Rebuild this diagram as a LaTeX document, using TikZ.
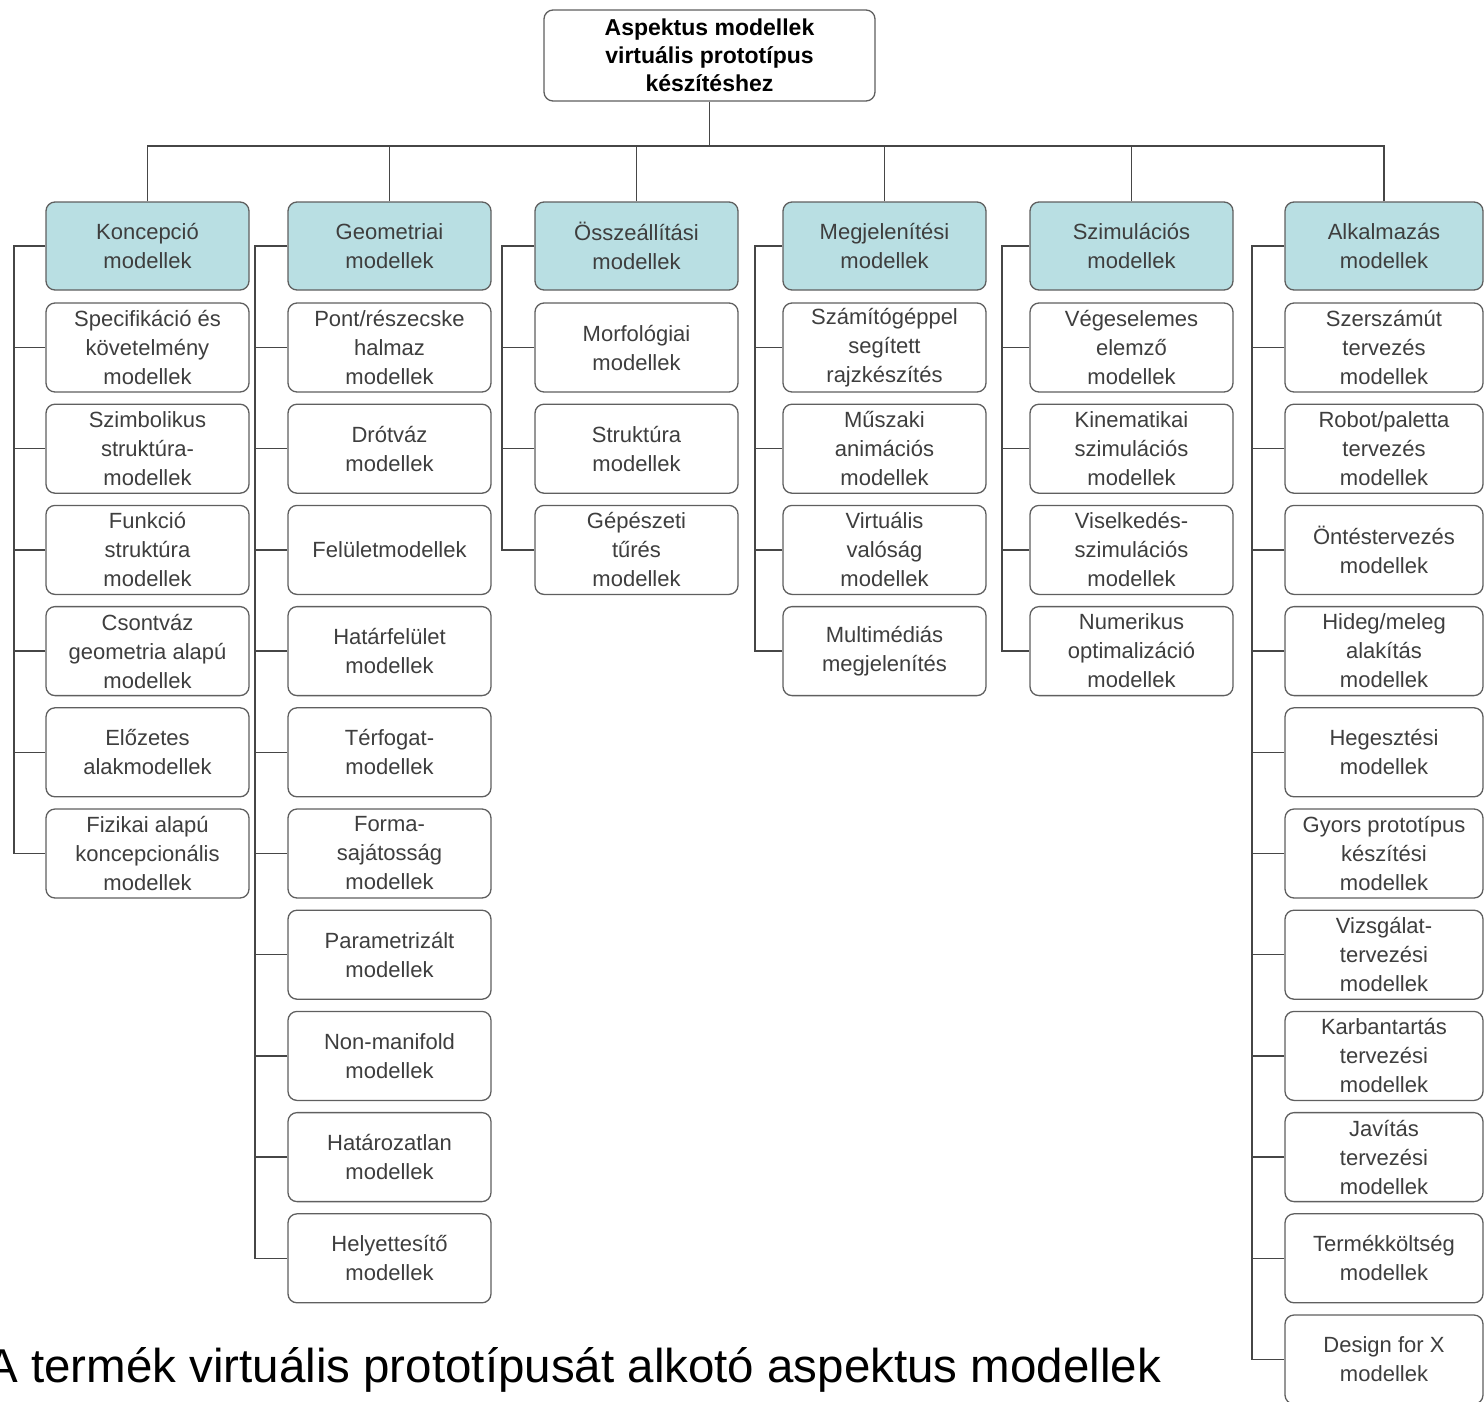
\documentclass[tikz,border=0pt]{standalone}
\usepackage{fontspec}
\setmainfont{Liberation Sans}
\definecolor{hdr}{RGB}{185,223,227}
\definecolor{edgec}{RGB}{95,95,95}
\definecolor{txt}{RGB}{62,62,62}
\definecolor{linkc}{RGB}{70,70,70}
\begin{document}
\begin{tikzpicture}[x=1pt,y=-1pt,
 box/.style={draw=edgec, line width=1.3pt, rounded corners=9pt, fill=white, text=txt, align=center,
   font=\fontsize{22}{29}\selectfont, inner sep=0pt, minimum height=89pt, minimum width=203pt},
 hbox/.style={box, fill=hdr, minimum height=88pt},
 link/.style={draw=linkc, line width=1.3pt}]
\useasboundingbox (0,0) rectangle (1484,1401);
\clip (0,0) rectangle (1484,1401);

% top box
\node[box, text=black, font=\bfseries\fontsize{23}{28}\selectfont, minimum width=331pt, minimum height=91pt] (top) at (709.5,55.5)
  {Aspektus modellek\\virtuális prototípus\\készítéshez};

% headers
\node[hbox] (c1h) at (147.5,246) {Koncepció\\modellek};
\node[hbox] (c2h) at (389.5,246) {Geometriai\\modellek};
\node[hbox] (c3h) at (636.5,246) {Összeállítási\\modellek};
\node[hbox] (c4h) at (884.5,246) {Megjelenítési\\modellek};
\node[hbox] (c5h) at (1131.5,246) {Szimulációs\\modellek};
\node[hbox, minimum width=198pt] (c6h) at (1384,246) {Alkalmazás\\modellek};

% spine coordinates
\coordinate (s1) at (14,246);
\coordinate (s2) at (255,246);
\coordinate (s3) at (502,246);
\coordinate (s4) at (755,246);
\coordinate (s5) at (1002,246);
\coordinate (s6) at (1252,246);

% column 1
\foreach \t [count=\k] in {{Specifikáció és\\követelmény\\modellek},{Szimbolikus\\struktúra-\\modellek},{Funkció\\struktúra\\modellek},{Csontváz\\geometria alapú\\modellek},{Előzetes\\alakmodellek},{Fizikai alapú\\koncepcionális\\modellek}}
  \node[box] (c1r\k) at (147.5,{347.5+(\k-1)*101.2}) {\t};
% column 2
\foreach \t [count=\k] in {{Pont/részecske\\halmaz\\modellek},{Drótváz\\modellek},{Felületmodellek},{Határfelület\\modellek},{Térfogat-\\modellek},{Forma-\\sajátosság\\modellek},{Parametrizált\\modellek},{Non-manifold\\modellek},{Határozatlan\\modellek},{Helyettesítő\\modellek}}
  \node[box] (c2r\k) at (389.5,{347.5+(\k-1)*101.2}) {\t};
% column 3
\foreach \t [count=\k] in {{Morfológiai\\modellek},{Struktúra\\modellek},{Gépészeti\\tűrés\\modellek}}
  \node[box] (c3r\k) at (636.5,{347.5+(\k-1)*101.2}) {\t};
% column 4
\foreach \t [count=\k] in {{Számítógéppel\\segített\\rajzkészítés},{Műszaki\\animációs\\modellek},{Virtuális\\valóság\\modellek},{Multimédiás\\megjelenítés}}
  \node[box] (c4r\k) at (884.5,{347.5+(\k-1)*101.2}) {\t};
% column 5
\foreach \t [count=\k] in {{Végeselemes\\elemző\\modellek},{Kinematikai\\szimulációs\\modellek},{Viselkedés-\\szimulációs\\modellek},{Numerikus\\optimalizáció\\modellek}}
  \node[box] (c5r\k) at (1131.5,{347.5+(\k-1)*101.2}) {\t};
% column 6
\foreach \t [count=\k] in {{Szerszámút\\tervezés\\modellek},{Robot/paletta\\tervezés\\modellek},{Öntéstervezés\\modellek},{Hideg/meleg\\alakítás\\modellek},{Hegesztési\\modellek},{Gyors prototípus\\készítési\\modellek},{Vizsgálat-\\tervezési\\modellek},{Karbantartás\\tervezési\\modellek},{Javítás\\tervezési\\modellek},{Termékköltség\\modellek},{Design for X\\modellek}}
  \node[box, minimum width=198pt] (c6r\k) at (1384,{347.5+(\k-1)*101.2}) {\t};

% top connectors
\coordinate (bus) at (709.5,146);
\draw[link] (top.south) -- (bus);
\foreach \i in {1,...,6}
  \draw[link] (c\i h.north) |- (bus);

% column spines
\draw[link] (c1h.west) -- (s1) |- (c1r6.west);
\foreach \k in {1,...,5} \draw[link] (c1r\k.west) -- (c1r\k.west -| s1);
\draw[link] (c2h.west) -- (s2) |- (c2r10.west);
\foreach \k in {1,...,9} \draw[link] (c2r\k.west) -- (c2r\k.west -| s2);
\draw[link] (c3h.west) -- (s3) |- (c3r3.west);
\foreach \k in {1,2} \draw[link] (c3r\k.west) -- (c3r\k.west -| s3);
\draw[link] (c4h.west) -- (s4) |- (c4r4.west);
\foreach \k in {1,...,3} \draw[link] (c4r\k.west) -- (c4r\k.west -| s4);
\draw[link] (c5h.west) -- (s5) |- (c5r4.west);
\foreach \k in {1,...,3} \draw[link] (c5r\k.west) -- (c5r\k.west -| s5);
\draw[link] (c6h.west) -- (s6) |- (c6r11.west);
\foreach \k in {1,...,10} \draw[link] (c6r\k.west) -- (c6r\k.west -| s6);

% caption
\node[anchor=base west, inner sep=0pt, font=\fontsize{47.5}{50}\selectfont] (cap) at (-14,1382)
  {A termék virtuális prototípusát alkotó aspektus modellek};
\end{tikzpicture}
\end{document}
